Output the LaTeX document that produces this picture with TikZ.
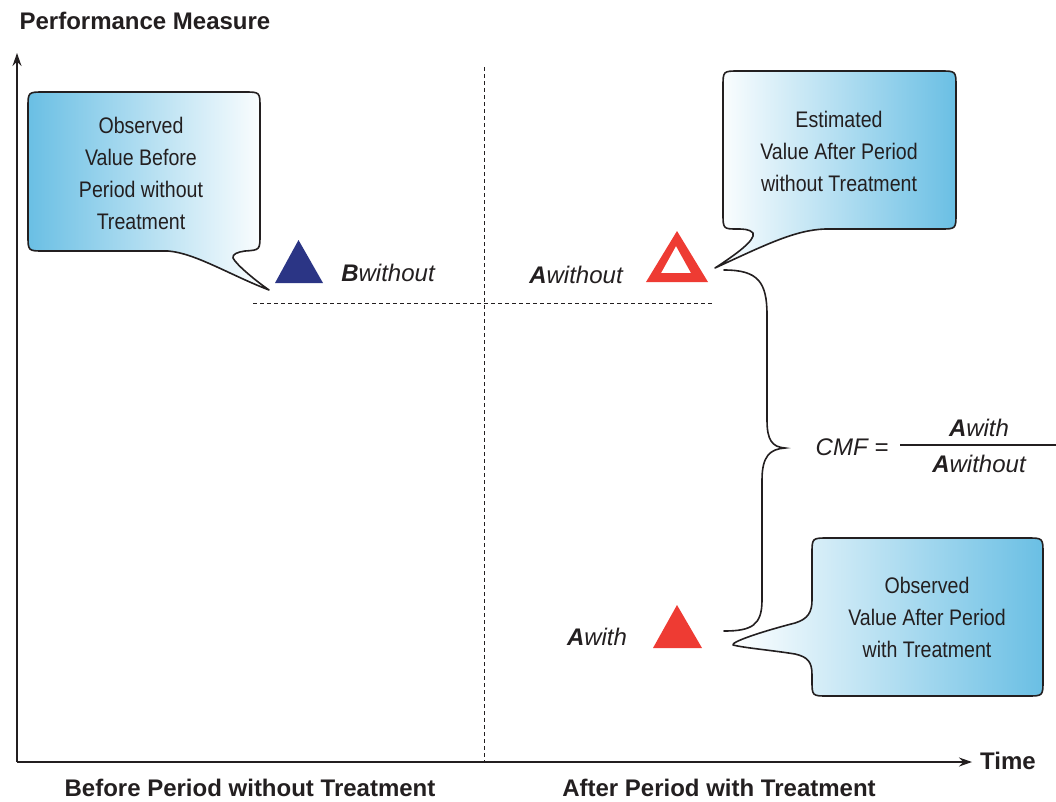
\documentclass[tikz,border=0pt]{standalone}
\usepackage{fontspec}
\setmainfont{Liberation Sans}
\newfontfamily\narrowfont[FakeStretch=0.87]{Liberation Sans}
\usetikzlibrary{arrows.meta}
\definecolor{cblue}{HTML}{6ABFE4}
\definecolor{navy}{HTML}{2B3585}
\definecolor{tred}{HTML}{EE3B33}
\definecolor{ink}{HTML}{231F20}
\tikzset{
  axis/.style={draw=ink, line width=1.3pt, -{Stealth[length=13pt,width=9pt]}},
  guide/.style={draw=ink, line width=0.8pt, dash pattern=on 4pt off 3pt},
  callout/.style={draw=ink, line width=1.6pt, line join=round},
  bubbletext/.style={text=ink, align=center, font=\narrowfont\fontsize{22.5}{32}\selectfont},
  boldlabel/.style={text=ink, font=\bfseries\fontsize{24}{28}\selectfont},
  itlabel/.style={text=ink, font=\itshape\fontsize{24}{28}\selectfont, anchor=base},
  brace/.style={draw=ink, line width=1.6pt, line cap=round}
}
\begin{document}
\begin{tikzpicture}[x=1pt,y=-1pt]
\useasboundingbox (0,0) rectangle (1056,801);

% axes
\coordinate (origin) at (17,762);
\coordinate (ytop) at (17,53);
\coordinate (xend) at (972,762);
\draw[axis] (origin) -- (ytop);
\draw[axis] (origin) -- (xend);
\node[boldlabel] (ylab) at (145,21) {Performance Measure};
\node[boldlabel] (xlab) at (1008,761) {Time};
\node[boldlabel] (before) at (250,788) {Before Period without Treatment};
\node[boldlabel] (after) at (719,788) {After Period with Treatment};

% guides
\coordinate (vtop) at (484,67);
\coordinate (vbot) at (484,762);
\draw[guide] (vtop) -- (vbot);
\coordinate (hl) at (253,303);
\coordinate (hr) at (714,303);
\draw[guide] (hl) -- (hr);

% triangles
\fill[navy] (298.5,240) -- (323,283) -- (275,283) -- cycle;
\fill[tred, even odd rule] (677,231) -- (708,282) -- (646,282) -- cycle
  (676,246) -- (691,273) -- (661,273) -- cycle;
\fill[tred] (677,605) -- (702,648) -- (653,648) -- cycle;

% labels
\node[itlabel] (bwo) at (388,281) {\textbf{B}without};
\node[itlabel] (awo) at (576,283) {\textbf{A}without};
\node[itlabel] (aw) at (597,645) {\textbf{A}with};

% callout 1 (left)
\path[callout, left color=cblue, right color=white]
  (28,108) .. controls (28,92) .. (44,92) -- (244,92)
  .. controls (260,92) .. (260,108) -- (260,234)
  .. controls (260,250) .. (245,251)
  .. controls (238,252) and (232,254) .. (233,258)
  .. controls (236,264) and (252,278) .. (269,290)
  .. controls (230,275) and (195,253) .. (168,251)
  -- (44,251) .. controls (28,251) .. (28,235) -- cycle;
\node[bubbletext] (c1) at (141,173) {Observed\\Value Before\\Period without\\Treatment};

% callout 2 (top right)
\path[callout, left color=white, right color=cblue]
  (723,87) .. controls (723,71) .. (739,71) -- (940,71)
  .. controls (956,71) .. (956,87) -- (956,213)
  .. controls (956,229) .. (940,229) -- (825,229)
  .. controls (795,230) and (765,245) .. (715,268)
  .. controls (735,255) and (756,240) .. (753,233)
  .. controls (750,229) and (742,229) .. (738,229)
  .. controls (723,229) .. (723,213) -- cycle;
\node[bubbletext] (c2) at (839,151) {Estimated\\Value After Period\\without Treatment};

% callout 3 (bottom right)
\path[callout, left color=white, right color=cblue]
  (812,554) .. controls (812,538) .. (828,538) -- (1027,538)
  .. controls (1043,538) .. (1043,554) -- (1043,680)
  .. controls (1043,696) .. (1027,696) -- (828,696)
  .. controls (812,696) .. (812,680) -- (812,675)
  .. controls (812,662) and (808,657) .. (795,654)
  .. controls (770,650) and (745,648) .. (733,645)
  .. controls (731,642) and (760,632) .. (795,623)
  .. controls (808,619) and (812,612) .. (812,600) -- cycle;
\node[bubbletext] (c3) at (927,617) {Observed\\Value After Period\\with Treatment};

% brace
\coordinate (btop) at (724,270);
\coordinate (btip) at (785,448);
\coordinate (bbot) at (724,631);
\draw[brace] (btop) .. controls (758,270) and (767,282) .. (767,315)
  -- (767,420) .. controls (767,440) and (772,447) .. (btip)
  .. controls (770,449) and (762,456) .. (762,480)
  -- (762,600) .. controls (762,625) and (752,631) .. (bbot);

% formula
\node[itlabel] (cmf) at (852,455) {CMF =};
\coordinate (fl) at (900,445);
\coordinate (fr) at (1056,445);
\draw[draw=ink, line width=1.6pt] (fl) -- (fr);
\node[itlabel] (num) at (979,436) {\textbf{A}with};
\node[itlabel] (den) at (979,472) {\textbf{A}without};
\end{tikzpicture}
\end{document}
